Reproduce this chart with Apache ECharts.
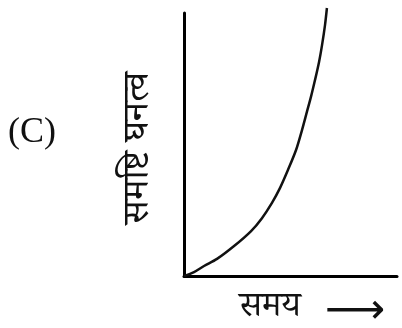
<!DOCTYPE html>
<html>
<head>
<meta charset="utf-8">
<script src="https://cdn.jsdelivr.net/npm/echarts@6/dist/echarts.min.js"></script>
<style>
html,body{margin:0;padding:0;background:#fff;}
#c{width:402px;height:328px;}
</style>
</head>
<body>
<div id="c"></div>
<script>
// Time (arbitrary units) and population density (arbitrary units)
var timeValues = [0, 0.47, 0.94, 1.55, 2.35, 3.15, 3.66, 4.13, 4.51, 4.88, 5.26, 5.54, 5.77, 5.96, 6.15, 6.34, 6.48, 6.62, 6.71];
var densityValues = [0, 1.5, 3.8, 6.5, 11.4, 17.1, 22.0, 27.8, 33.5, 40.3, 47.9, 55.5, 62.4, 68.1, 74.5, 81.4, 87.8, 95.4, 101.9];
var panelLabel = '(C)';
var yAxisTitle = 'समष्टि घनत्व';
var xAxisTitle = 'समय';
var arrowText = '⟶';

var devaFont = "'Noto Serif Devanagari','Noto Sans Devanagari','Lohit Devanagari','Noto Sans',serif";

var chart = echarts.init(document.getElementById('c'));
var pts = timeValues.map(function (t, i) { return [t, densityValues[i]]; });

chart.setOption({
  animation: false,
  backgroundColor: '#fff',
  grid: { left: 184, right: 5, top: 13, bottom: 52 },
  xAxis: {
    type: 'value', min: 0, max: 10,
    axisLine: { show: true, lineStyle: { color: '#000', width: 3 } },
    axisTick: { show: false }, axisLabel: { show: false }, splitLine: { show: false }
  },
  yAxis: {
    type: 'value', min: 0, max: 100,
    axisLine: { show: true, lineStyle: { color: '#000', width: 3 } },
    axisTick: { show: false }, axisLabel: { show: false }, splitLine: { show: false }
  },
  series: [{
    type: 'line',
    data: pts,
    smooth: 0.3,
    clip: false,
    showSymbol: false,
    lineStyle: { color: '#111', width: 2.5 }
  }],
  graphic: [
    { type: 'text', x: 32, y: 133, style: { text: panelLabel, font: "36px 'Liberation Serif', serif", fill: '#111', textAlign: 'center', textVerticalAlign: 'middle' } },
    { type: 'text', x: 144, y: 148, rotation: Math.PI / 2, style: { text: yAxisTitle, font: '37px ' + devaFont, fill: '#111', textAlign: 'center', textVerticalAlign: 'middle' } },
    { type: 'text', x: 270, y: 313, style: { text: xAxisTitle, font: '35px ' + devaFont, fill: '#111', textAlign: 'center', textVerticalAlign: 'middle' } },
    { type: 'text', x: 355, y: 312, style: { text: arrowText, font: "42px 'DejaVu Sans', sans-serif", fill: '#111', textAlign: 'center', textVerticalAlign: 'middle' } }
  ]
});
</script>
</body>
</html>
